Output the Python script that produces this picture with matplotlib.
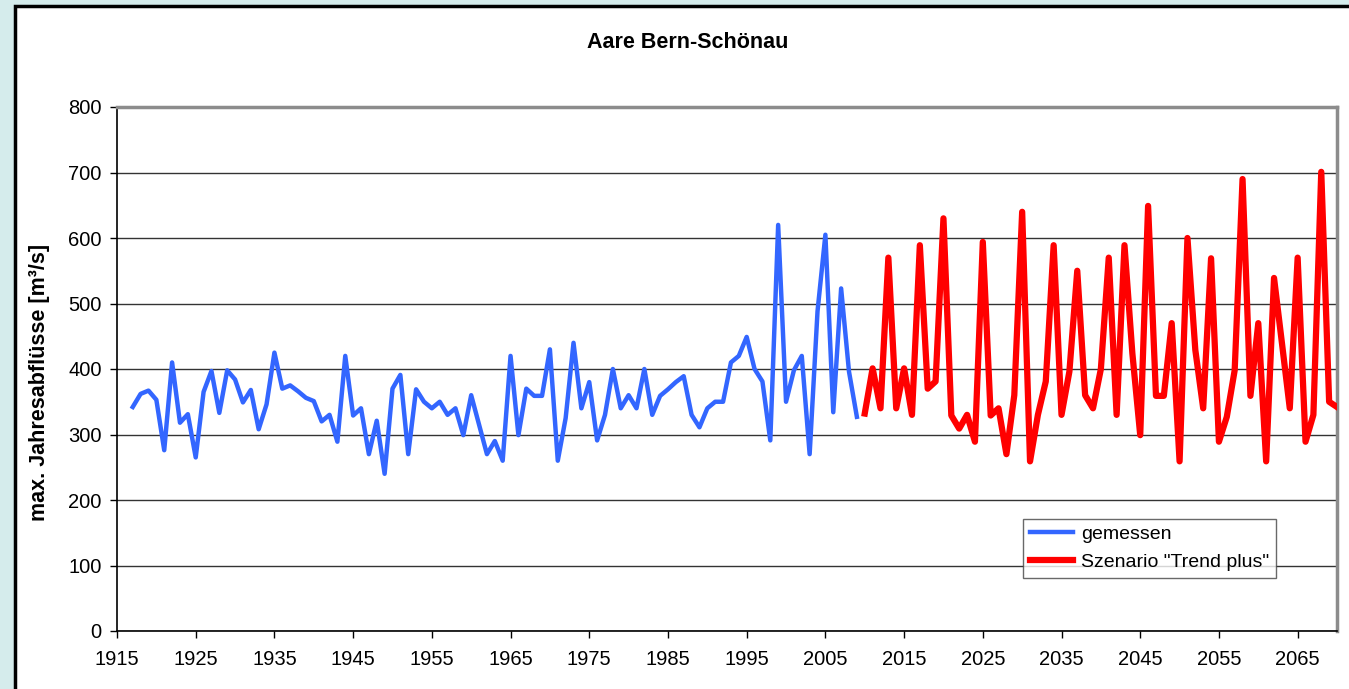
import matplotlib.pyplot as plt
from matplotlib.patches import Rectangle

plt.rcParams['font.family'] = ['Liberation Sans', 'DejaVu Sans']

# measured annual maxima (1917-2009)
years_measured = list(range(1917, 2010))
measured = [342, 362, 367, 353, 276, 410, 318, 331, 265, 365,
            397, 333, 398, 384, 349, 368, 308, 346, 425, 370,
            375, 366, 356, 351, 320, 330, 289, 420, 329, 340,
            270, 321, 240, 370, 391, 270, 369, 350, 340, 350,
            330, 340, 299, 360, 315, 270, 290, 260, 420, 299,
            370, 359, 359, 430, 260, 325, 440, 340, 380, 291,
            330, 400, 340, 360, 340, 400, 330, 359, 369, 380,
            389, 330, 311, 340, 350, 350, 410, 420, 449, 400,
            381, 291, 620, 350, 398, 420, 270, 488, 605, 334,
            523, 396, 327]

# scenario "Trend plus" (2010-2070)
years_scenario = list(range(2010, 2071))
scenario = [332, 401, 340, 570, 340, 401, 330, 589, 370, 381,
            630, 329, 309, 330, 289, 594, 329, 340, 270, 360,
            640, 259, 330, 381, 589, 330, 396, 550, 360, 340,
            400, 570, 330, 589, 424, 299, 649, 359, 359, 470,
            259, 600, 429, 340, 569, 289, 327, 398, 690, 359,
            470, 259, 539, 440, 340, 570, 289, 330, 701, 350,
            342]

fig = plt.figure(figsize=(13.49, 6.89), dpi=100)
fig.patch.set_facecolor('#D5ECEC')

# white chart area with black border (behind the axes)
fig.patches.append(Rectangle((15 / 1349, -0.05), 1.1, 1 - 6 / 689 + 0.05,
                             transform=fig.transFigure, facecolor='white',
                             edgecolor='black', linewidth=2.5, zorder=-10))

ax = fig.add_axes([117 / 1349, 58 / 689, 1220 / 1349, 524 / 689])
ax.set_facecolor('white')

ax.plot(years_measured, measured, color='#3366FF', lw=3.2, label='gemessen',
        solid_joinstyle='round', zorder=3)
ax.plot(years_scenario, scenario, color='#FF0000', lw=4.5,
        label='Szenario "Trend plus"', solid_joinstyle='round', zorder=3)

ax.set_xlim(1915, 2070)
ax.set_ylim(0, 800)
ax.set_xticks(range(1915, 2070, 10))
ax.set_yticks(range(0, 801, 100))
ax.tick_params(axis='both', direction='out', length=5, width=1,
               labelsize=14.5, colors='black')
ax.tick_params(axis='x', pad=9)
ax.tick_params(axis='y', pad=6)
ax.yaxis.grid(True, color='#333333', lw=1)
ax.set_axisbelow(True)

for side in ['left', 'bottom']:
    ax.spines[side].set_color('black')
    ax.spines[side].set_linewidth(1.2)
for side in ['top', 'right']:
    ax.spines[side].set_color('#8c8c8c')
    ax.spines[side].set_linewidth(2.5)

ax.set_ylabel('max. Jahresabflüsse [m³/s]', fontsize=15.5, fontweight='bold')
ax.yaxis.set_label_coords(-0.055, 0.475)
fig.text(0.51, 1 - 42 / 689, 'Aare Bern-Schönau', ha='center', va='center',
         fontsize=15.5, fontweight='bold')

leg = ax.legend(loc='lower left', bbox_to_anchor=(0.743, 0.101), fontsize=14,
                frameon=True, fancybox=False, edgecolor='#444444',
                handlelength=2.2, borderpad=0.35, labelspacing=0.55,
                handletextpad=0.4, borderaxespad=0)
leg.get_frame().set_linewidth(1)

fig.savefig('out.png', dpi=100, facecolor=fig.get_facecolor())
